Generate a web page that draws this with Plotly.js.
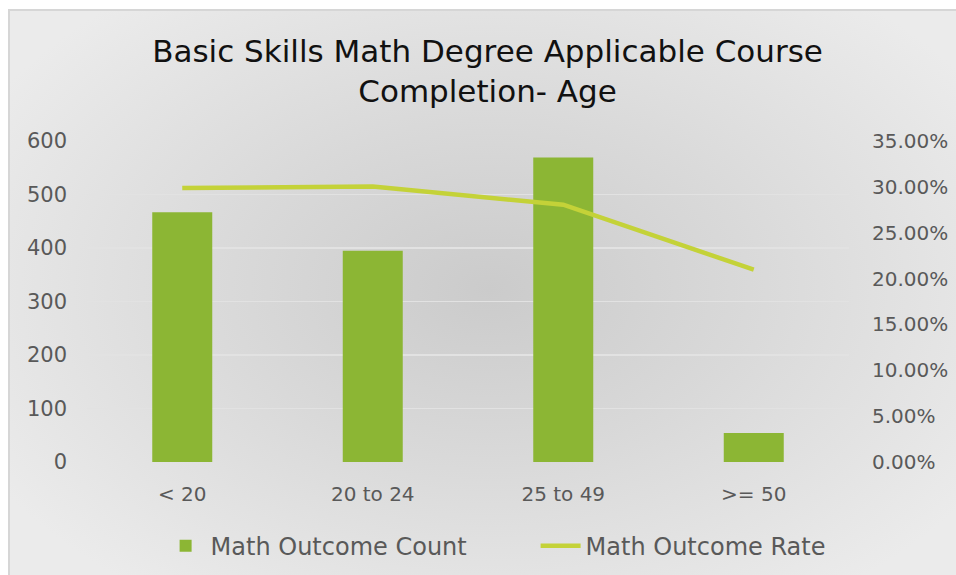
<!DOCTYPE html>
<html>
<head>
<meta charset="utf-8">
<script src="https://cdn.plot.ly/plotly-3.0.1.min.js"></script>
<style>
  html, body { margin: 0; padding: 0; background: #ffffff; }
  #frame {
    position: absolute; left: 8px; top: 9px; width: 960px; height: 580px;
    border: 2px solid #d6d6d6;
    background: radial-gradient(ellipse 60% 65% at 50% 48%, #cbcbcb 0%, #d9d9d9 45%, #ebebeb 100%);
  }
  #chart { position: absolute; left: 0; top: 0; width: 956px; height: 575px; }
</style>
</head>
<body>
<div id="frame"></div>
<div id="chart"></div>
<script>
const categories = ["< 20", "20 to 24", "25 to 49", ">= 50"];
const outcomeCount = [467, 395, 569, 54];
const outcomeRate = [0.2988, 0.3003, 0.2805, 0.2097];
const countTicks = [0, 100, 200, 300, 400, 500, 600];
const rateTicks = [0, 0.05, 0.10, 0.15, 0.20, 0.25, 0.30, 0.35];

const FONT = "Century Gothic, 'DejaVu Sans', sans-serif";

const traces = [
  {
    type: "bar",
    name: "Math Outcome Count",
    x: categories,
    y: outcomeCount,
    marker: { color: "#8cb634" },
    yaxis: "y"
  },
  {
    type: "scatter",
    mode: "lines",
    name: "Math Outcome Rate",
    x: categories,
    y: outcomeRate,
    line: { color: "#c4d238", width: 4.5 },
    yaxis: "y2"
  }
];

const layout = {
  width: 956,
  height: 575,
  paper_bgcolor: "rgba(0,0,0,0)",
  plot_bgcolor: "rgba(0,0,0,0)",
  margin: { l: 87, r: 107, t: 141, b: 113 },
  font: { family: FONT, color: "#595959", size: 20 },
  title: {
    text: "Basic Skills Math Degree Applicable Course<br>Completion- Age",
    font: { family: FONT, size: 31, color: "#111111" },
    x: 0.51, xanchor: "center",
    yref: "container",
    y: 0.893, yanchor: "top"
  },
  bargap: 0.685,
  xaxis: {
    tickfont: { size: 20, color: "#595959" },
    showgrid: false,
    zeroline: false,
    showline: false,
    ticks: "",
    ticklabelstandoff: 18
  },
  yaxis: {
    range: [0, 600],
    tickvals: countTicks,
    tickfont: { size: 21, color: "#595959" },
    gridcolor: "#e2e2e2",
    gridwidth: 1.5,
    zeroline: false,
    showline: false,
    ticks: "",
    ticklabelstandoff: 19
  },
  yaxis2: {
    overlaying: "y",
    side: "right",
    range: [0, 0.35],
    tickvals: rateTicks,
    tickformat: ".2%",
    tickfont: { size: 20, color: "#595959" },
    showgrid: false,
    zeroline: false,
    showline: false,
    ticks: "",
    ticklabelstandoff: 22
  },
  legend: {
    orientation: "h",
    xref: "container",
    x: 0.168, xanchor: "left",
    yref: "container",
    y: 0.05, yanchor: "middle",
    font: { size: 24, color: "#595959" },
    bgcolor: "rgba(0,0,0,0)",
    itemwidth: 40,
    entrywidth: 320,
    entrywidthmode: "pixels",
    traceorder: "normal"
  },
  showlegend: true
};

Plotly.newPlot("chart", traces, layout, { displayModeBar: false, staticPlot: true });
</script>
</body>
</html>
